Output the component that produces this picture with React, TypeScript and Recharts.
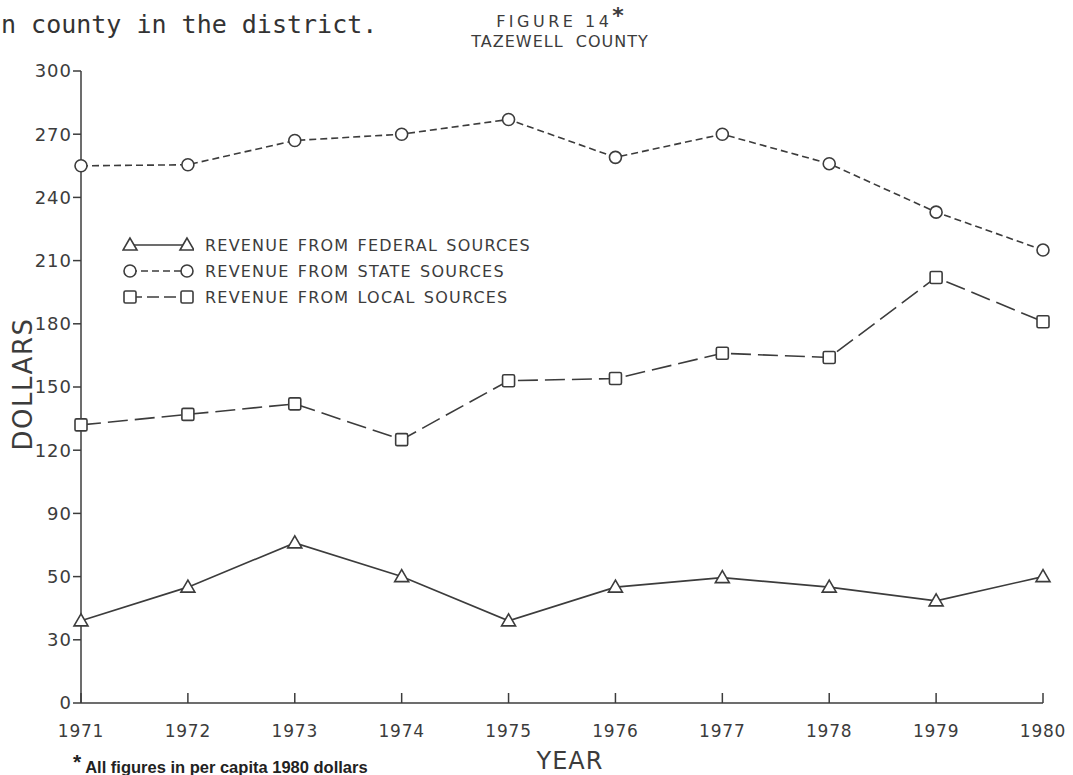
import React from "react";
import { LineChart, Line, XAxis, YAxis } from "recharts";

// per capita revenue, 1980 dollars
const YEARS = [1971, 1972, 1973, 1974, 1975, 1976, 1977, 1978, 1979, 1980];
const FEDERAL = [39, 55, 76, 60, 39, 55, 59.5, 55, 48.5, 60];
const STATE = [255, 255.5, 267, 270, 277, 259, 270, 256, 233, 215];
const LOCAL = [132, 137, 142, 125, 153, 154, 166, 164, 202, 181];

const Y_TICKS = [0, 30, 60, 90, 120, 150, 180, 210, 240, 270, 300];
const Y_TICK_LABELS = ["0", "30", "50", "90", "120", "150", "180", "210", "240", "270", "300"];

const SERIES = [
  { key: "federal", label: "REVENUE FROM FEDERAL SOURCES", dash: undefined, legendDash: undefined, marker: "triangle" },
  { key: "state", label: "REVENUE FROM STATE SOURCES", dash: "7 4", legendDash: "7 4", marker: "circle" },
  { key: "local", label: "REVENUE FROM LOCAL SOURCES", dash: "20 7", legendDash: "12 5", marker: "square" },
];

const data = YEARS.map((year, i) => ({
  year,
  federal: FEDERAL[i],
  state: STATE[i],
  local: LOCAL[i],
}));

const INK = "#3c3c3c";
const FONT = "'DejaVu Sans', sans-serif";

const Marker = ({ cx, cy, shape }: { cx: number; cy: number; shape: string }) => {
  if (cx == null || cy == null) return null;
  const common = { fill: "#fff", stroke: INK, strokeWidth: 1.6 };
  if (shape === "circle") return <circle cx={cx} cy={cy} r={6} {...common} />;
  if (shape === "square")
    return <rect x={cx - 6} y={cy - 6} width={12} height={12} rx={1.5} {...common} />;
  return (
    <polygon
      points={`${cx},${cy - 7} ${cx - 7},${cy + 5} ${cx + 7},${cy + 5}`}
      {...common}
    />
  );
};

const makeDot = (shape: string) => (props: any) => (
  <Marker key={`${shape}-${props.index}`} cx={props.cx} cy={props.cy} shape={shape} />
);

// bottom axis: inward tick + year label
const BottomTick = ({ x, y, payload }: any) => (
  <g>
    <line x1={x} y1={y} x2={x} y2={y - 10} stroke={INK} strokeWidth={1.5} />
    <text
      x={x}
      y={y + 34}
      textAnchor="middle"
      fill={INK}
      fontSize={17}
      letterSpacing={0.8}
      fontFamily={FONT}
    >
      {payload.value}
    </text>
  </g>
);

const TopTick = ({ x, y }: any) => (
  <line x1={x} y1={y} x2={x} y2={y + 9} stroke={INK} strokeWidth={1.5} />
);

const RightTick = ({ x, y }: any) => (
  <line x1={x} y1={y} x2={x - 10} y2={y} stroke={INK} strokeWidth={1.5} />
);

const ChartLegend = () => (
  <div
    style={{
      position: "absolute",
      left: 122,
      top: 232,
      fontFamily: FONT,
      color: INK,
    }}
  >
    {SERIES.map((s) => (
      <div
        key={s.key}
        style={{ display: "flex", alignItems: "center", height: 26 }}
      >
        <svg width={72} height={18}>
          <line
            x1={8}
            y1={9}
            x2={65}
            y2={9}
            stroke={INK}
            strokeWidth={1.6}
            strokeDasharray={s.legendDash}
          />
          <Marker cx={8} cy={9} shape={s.marker} />
          <Marker cx={65} cy={9} shape={s.marker} />
        </svg>
        <span
          style={{
            marginLeft: 11,
            fontSize: 16,
            letterSpacing: 1.2,
            wordSpacing: 2,
            whiteSpace: "nowrap",
          }}
        >
          {s.label}
        </span>
      </div>
    ))}
  </div>
);

export default function App() {
  return (
    <div
      style={{
        position: "absolute",
        left: 0,
        top: 0,
        width: 1073,
        height: 775,
        background: "#fff",
        fontFamily: FONT,
        color: INK,
      }}
    >
      <div
        style={{
          position: "absolute",
          left: 1,
          top: 10,
          fontFamily: "'DejaVu Sans Mono', monospace",
          fontSize: 25,
          color: "#333",
          whiteSpace: "nowrap",
        }}
      >
        n county in the district.
      </div>
      <div
        style={{
          position: "absolute",
          left: 410,
          top: 10,
          width: 300,
          textAlign: "center",
          fontSize: 16,
          lineHeight: "20px",
          whiteSpace: "nowrap",
        }}
      >
        <span style={{ letterSpacing: 3.5 }}>FIGURE 14</span>
        <span style={{ fontSize: 22, fontWeight: "bold", position: "relative", top: -4 }}>*</span>
        <br />
        <span style={{ letterSpacing: 1 }}>TAZEWELL&nbsp; COUNTY</span>
      </div>

      <LineChart
        width={1073}
        height={775}
        data={data}
        margin={{ top: 71, right: 30, bottom: 32, left: 21 }}
      >
        <XAxis
          dataKey="year"
          type="number"
          domain={[1971, 1980]}
          ticks={YEARS}
          height={40}
          axisLine={{ stroke: INK, strokeWidth: 1.5 }}
          tickLine={false}
          tickSize={0}
          tickMargin={0}
          tick={<BottomTick />}
          interval={0}
        />
        <XAxis
          xAxisId="top"
          orientation="top"
          dataKey="year"
          type="number"
          domain={[1971, 1980]}
          ticks={YEARS.slice(1, -1)}
          height={0}
          axisLine={{ stroke: INK, strokeWidth: 1.5 }}
          tickLine={false}
          tickSize={0}
          tickMargin={0}
          tick={<TopTick />}
          interval={0}
        />
        <YAxis
          domain={[0, 300]}
          ticks={Y_TICKS}
          width={60}
          interval={0}
          axisLine={{ stroke: INK, strokeWidth: 1.5 }}
          tickLine={{ stroke: INK, strokeWidth: 1.5 }}
          tickSize={8}
          tickMargin={1}
          tickFormatter={(v: number) => Y_TICK_LABELS[Y_TICKS.indexOf(v)]}
          tick={{ fill: INK, fontSize: 18, fontFamily: FONT, letterSpacing: 1 }}
        />
        <YAxis
          yAxisId="right"
          orientation="right"
          domain={[0, 300]}
          ticks={Y_TICKS.slice(1, -1)}
          width={0}
          interval={0}
          axisLine={{ stroke: INK, strokeWidth: 1.5 }}
          tickLine={false}
          tickSize={0}
          tickMargin={0}
          tick={<RightTick />}
        />
        {SERIES.map((s) => (
          <Line
            key={s.key}
            dataKey={s.key}
            stroke={INK}
            strokeWidth={1.6}
            strokeDasharray={s.dash}
            dot={makeDot(s.marker)}
            activeDot={false}
            isAnimationActive={false}
            legendType="none"
          />
        ))}
      </LineChart>

      <ChartLegend />

      <div
        style={{
          position: "absolute",
          left: 23,
          top: 384,
          transform: "translate(-50%, -50%) rotate(-90deg)",
          fontSize: 26,
          letterSpacing: 1.5,
          whiteSpace: "nowrap",
        }}
      >
        DOLLARS
      </div>
      <div
        style={{
          position: "absolute",
          left: 570,
          top: 761,
          transform: "translate(-50%, -50%)",
          fontSize: 24,
          letterSpacing: 1,
        }}
      >
        YEAR
      </div>
      <div
        style={{
          position: "absolute",
          left: 73,
          top: 754,
          fontSize: 16.5,
          fontWeight: "bold",
          whiteSpace: "nowrap",
          fontFamily: "'Liberation Sans', sans-serif",
          color: "#222",
        }}
      >
        <span style={{ fontSize: 21, position: "relative", top: -4 }}>*</span>{" "}
        All figures in per capita 1980 dollars
      </div>
    </div>
  );
}
